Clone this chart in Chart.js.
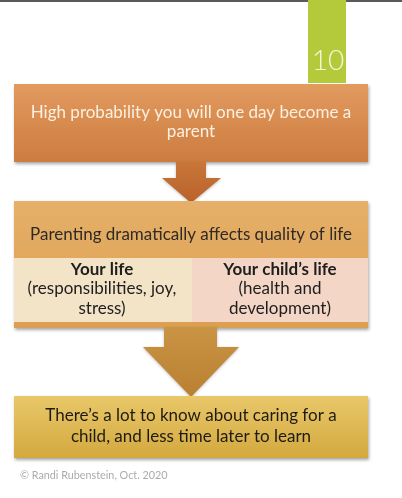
<!DOCTYPE html>
<html><head><meta charset="utf-8">
<script src="https://cdn.jsdelivr.net/npm/chart.js@4.4.0/dist/chart.umd.min.js"></script>
<style>html,body{margin:0;padding:0;background:#fff;}#wrap{width:402px;height:498px;}</style>
</head><body><div id="wrap"><canvas id="c" width="402" height="498"></canvas></div>
<script>
// ---- content (data) ----
const pageNumber = "10";
const step1Lines = ["High probability you will one day become a", "parent"];
const step2Title = "Parenting dramatically affects quality of life";
const subTitles = ["Your life", "Your child\u2019s life"];
const subDetails = [["(responsibilities, joy,", "stress)"], ["(health and", "development)"]];
const step3Lines = ["There\u2019s a lot to know about caring for a", "child, and less time later to learn"];
const credit = "\u00a9 Randi Rubenstein, Oct. 2020";

// ---- layout (positions in scale units, 1 unit = 1 px) ----
const L = {
  left: 14, right: 368,
  b1: [84, 162], b2: [201, 328], sub: [258, 322], b3: [396, 458],
  split: 192, cx: 191,
  arrow1: {stemL: 176, stemR: 206, top: 162, neck: 178, headL: 162, headR: 221, tip: 203},
  arrow2: {stemL: 164, stemR: 217, top: 327, neck: 347, headL: 143, headR: 239, tip: 397},
  green: [308, 346, 0, 83]
};
const FONT = "Lato, 'Open Sans', sans-serif";

const diagram = {
  id: 'diagram',
  afterDraw(chart) {
    const {ctx, scales: {x, y}} = chart;
    const X = v => x.getPixelForValue(v), Y = v => y.getPixelForValue(v);
    ctx.save();
    // top rule
    ctx.fillStyle = '#5a5a5a';
    ctx.fillRect(X(0), Y(0), X(402) - X(0), 2);
    // green tab
    ctx.fillStyle = '#b4ca3a';
    ctx.fillRect(X(L.green[0]), Y(L.green[2]), X(L.green[1]) - X(L.green[0]), Y(L.green[3]) - Y(L.green[2]));
    ctx.fillStyle = '#f4f7d8';
    ctx.font = "300 28px " + FONT;
    ctx.textAlign = 'center'; ctx.textBaseline = 'middle';
    ctx.fillText(pageNumber, X(328), Y(61));

    function box(t, b, c1, c2) {
      const g = ctx.createLinearGradient(0, Y(t), 0, Y(b));
      g.addColorStop(0, c1); g.addColorStop(1, c2);
      ctx.save();
      ctx.shadowColor = 'rgba(0,0,0,0.35)'; ctx.shadowBlur = 3; ctx.shadowOffsetX = 1; ctx.shadowOffsetY = 2;
      ctx.fillStyle = g;
      ctx.fillRect(X(L.left), Y(t), X(L.right) - X(L.left), Y(b) - Y(t));
      ctx.restore();
    }
    function arrow(a, c1, c2) {
      const g = ctx.createLinearGradient(0, Y(a.top), 0, Y(a.tip));
      g.addColorStop(0, c1); g.addColorStop(1, c2);
      ctx.save();
      ctx.shadowColor = 'rgba(0,0,0,0.25)'; ctx.shadowBlur = 3; ctx.shadowOffsetY = 1;
      ctx.fillStyle = g;
      ctx.beginPath();
      ctx.moveTo(X(a.stemL), Y(a.top)); ctx.lineTo(X(a.stemR), Y(a.top));
      ctx.lineTo(X(a.stemR), Y(a.neck)); ctx.lineTo(X(a.headR), Y(a.neck));
      ctx.lineTo(X(L.cx), Y(a.tip)); ctx.lineTo(X(a.headL), Y(a.neck));
      ctx.lineTo(X(a.stemL), Y(a.neck)); ctx.closePath(); ctx.fill();
      ctx.restore();
    }
    function text(lines, cx, y0, lh, font, color) {
      ctx.font = font; ctx.fillStyle = color; ctx.textAlign = 'center'; ctx.textBaseline = 'middle';
      lines.forEach((s, i) => ctx.fillText(s, X(cx), Y(y0 + i * lh)));
    }

    box(L.b1[0], L.b1[1], '#e29a5e', '#cd7c40');
    arrow(L.arrow1, '#c9763a', '#b9622a');
    box(L.b2[0], L.b2[1], '#e6b068', '#dc9f52');
    // sub boxes
    ctx.fillStyle = '#f3e3c7';
    ctx.fillRect(X(L.left), Y(L.sub[0]), X(L.split) - X(L.left), Y(L.sub[1]) - Y(L.sub[0]));
    ctx.fillStyle = '#f4d6c6';
    ctx.fillRect(X(L.split), Y(L.sub[0]), X(L.right) - X(L.split), Y(L.sub[1]) - Y(L.sub[0]));
    arrow(L.arrow2, '#c99444', '#b98030');
    box(L.b3[0], L.b3[1], '#e9c869', '#d3a93f');

    text(step1Lines, L.cx, 113, 19, "17px " + FONT, '#fcf0e2');
    text([step2Title], L.cx, 235, 0, "17px " + FONT, '#2e2a26');
    text([subTitles[0]], 102, 270, 0, "bold 17px " + FONT, '#1e1e1e');
    text(subDetails[0], 102, 289, 20, "17px " + FONT, '#1e1e1e');
    text([subTitles[1]], 280, 270, 0, "bold 17px " + FONT, '#1e1e1e');
    text(subDetails[1], 280, 289, 20, "17px " + FONT, '#1e1e1e');
    text(step3Lines, L.cx, 416, 21, "17px " + FONT, '#1e1a14');
    ctx.font = "10.8px " + FONT; ctx.fillStyle = '#ababab'; ctx.textAlign = 'left'; ctx.textBaseline = 'middle';
    ctx.fillText(credit, X(20), Y(476));
    ctx.restore();
  }
};

new Chart(document.getElementById('c'), {
  type: 'scatter',
  data: { datasets: [{ data: [], pointRadius: 0 }] },
  options: {
    responsive: false, animation: false, devicePixelRatio: 1,
    layout: { padding: 0 },
    plugins: { legend: { display: false }, tooltip: { enabled: false } },
    scales: {
      x: { type: 'linear', min: 0, max: 402, display: false },
      y: { type: 'linear', min: 0, max: 498, reverse: true, display: false }
    }
  },
  plugins: [diagram]
});
</script>
</body></html>
